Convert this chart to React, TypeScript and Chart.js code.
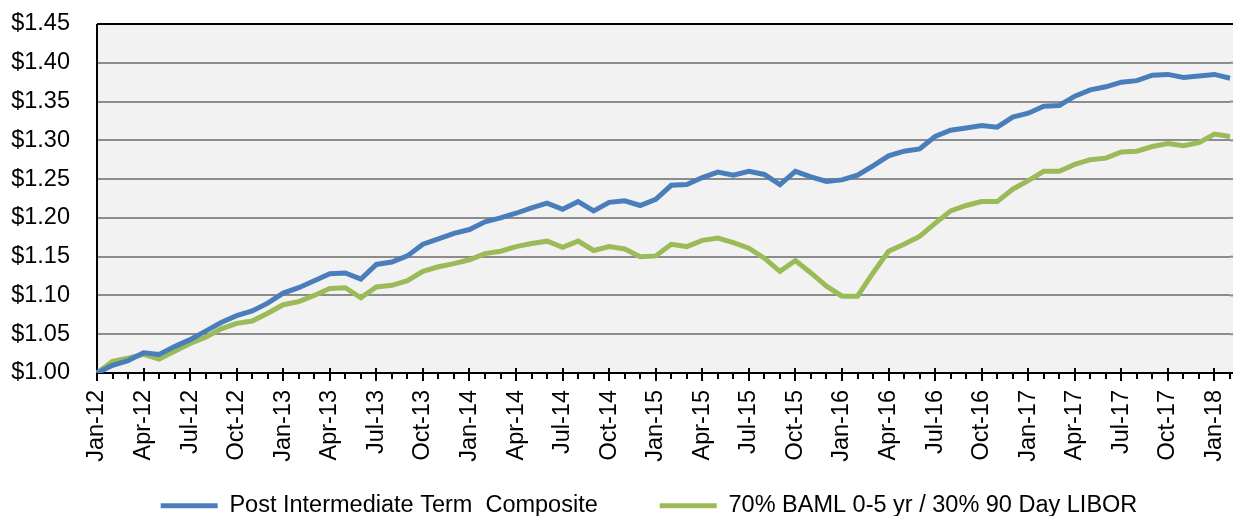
import React, { useEffect, useRef } from 'react';
import { Chart, registerables } from 'chart.js';

Chart.register(...registerables);

const categories = [
  'Jan-12', 'Feb-12', 'Mar-12', 'Apr-12', 'May-12', 'Jun-12', 'Jul-12', 'Aug-12', 'Sep-12', 'Oct-12', 'Nov-12', 'Dec-12',
  'Jan-13', 'Feb-13', 'Mar-13', 'Apr-13', 'May-13', 'Jun-13', 'Jul-13', 'Aug-13', 'Sep-13', 'Oct-13', 'Nov-13', 'Dec-13',
  'Jan-14', 'Feb-14', 'Mar-14', 'Apr-14', 'May-14', 'Jun-14', 'Jul-14', 'Aug-14', 'Sep-14', 'Oct-14', 'Nov-14', 'Dec-14',
  'Jan-15', 'Feb-15', 'Mar-15', 'Apr-15', 'May-15', 'Jun-15', 'Jul-15', 'Aug-15', 'Sep-15', 'Oct-15', 'Nov-15', 'Dec-15',
  'Jan-16', 'Feb-16', 'Mar-16', 'Apr-16', 'May-16', 'Jun-16', 'Jul-16', 'Aug-16', 'Sep-16', 'Oct-16', 'Nov-16', 'Dec-16',
  'Jan-17', 'Feb-17', 'Mar-17', 'Apr-17', 'May-17', 'Jun-17', 'Jul-17', 'Aug-17', 'Sep-17', 'Oct-17', 'Nov-17', 'Dec-17',
  'Jan-18', 'Feb-18',
];

const compositeValues = [
  1.000, 1.010, 1.016, 1.026, 1.024, 1.034, 1.043, 1.054, 1.065, 1.074, 1.080, 1.090,
  1.103, 1.110, 1.119, 1.128, 1.129, 1.121, 1.140, 1.143, 1.151, 1.166, 1.173, 1.180,
  1.185, 1.195, 1.200, 1.206, 1.213, 1.219, 1.211, 1.221, 1.209, 1.220, 1.222, 1.216,
  1.224, 1.242, 1.243, 1.252, 1.259, 1.255, 1.260, 1.256, 1.243, 1.260, 1.253, 1.247,
  1.249, 1.255, 1.267, 1.280, 1.286, 1.289, 1.305, 1.313, 1.316, 1.319, 1.317, 1.330,
  1.335, 1.344, 1.345, 1.357, 1.365, 1.369, 1.375, 1.377, 1.384, 1.385, 1.381, 1.383,
  1.385, 1.380,
];

const benchmarkValues = [
  1.000, 1.015, 1.019, 1.024, 1.018, 1.028, 1.038, 1.046, 1.057, 1.064, 1.067, 1.077,
  1.088, 1.092, 1.100, 1.109, 1.110, 1.097, 1.111, 1.113, 1.119, 1.131, 1.137, 1.141,
  1.146, 1.154, 1.157, 1.163, 1.167, 1.170, 1.162, 1.170, 1.158, 1.163, 1.160, 1.150,
  1.151, 1.166, 1.163, 1.171, 1.174, 1.168, 1.161, 1.148, 1.131, 1.145, 1.129, 1.112,
  1.099, 1.099, 1.129, 1.157, 1.166, 1.176, 1.193, 1.209, 1.216, 1.221, 1.221, 1.237,
  1.248, 1.260, 1.260, 1.269, 1.275, 1.277, 1.285, 1.286, 1.292, 1.296, 1.293, 1.297,
  1.308, 1.305,
];

const seriesNames = ['Post Intermediate Term  Composite', '70% BAML 0-5 yr / 30% 90 Day LIBOR'];
const seriesColors = ['#4a7ebb', '#9bbb59'];

const yMin = 1.0;
const yMax = 1.45;
const yStep = 0.05;
const labelEvery = 3;

const FONT = "'Liberation Sans', Arial, sans-serif";

const framePlugin = {
  id: 'excelFrame',
  afterLayout(chart: any) {
    const lg = chart.legend;
    if (lg) {
      const h = lg.bottom - lg.top;
      lg.left = 68;
      lg.top = 432;
      lg.bottom = 432 + h;
    }
  },
  beforeDraw(chart: any) {
    const { ctx, chartArea: a, width } = chart;
    ctx.save();
    ctx.fillStyle = '#f2f2f2';
    ctx.fillRect(a.left, a.top, width - a.left, a.bottom - a.top);
    ctx.restore();
  },
  beforeDatasetsDraw(chart: any) {
    const { ctx, chartArea: a, width } = chart;
    const ys = chart.scales.y;
    const xs = chart.scales.x;
    ctx.save();
    ctx.strokeStyle = '#8c8c8c';
    ctx.lineWidth = 2;
    ys.ticks.forEach((t: any) => {
      const y = ys.getPixelForValue(t.value);
      ctx.beginPath();
      ctx.moveTo(a.right, y);
      ctx.lineTo(width, y);
      ctx.stroke();
    });
    ctx.strokeStyle = '#000';
    ctx.lineWidth = 2;
    ctx.beginPath();
    ctx.moveTo(a.left, a.top);
    ctx.lineTo(width, a.top);
    ctx.stroke();
    ctx.beginPath();
    ctx.moveTo(a.left, a.top);
    ctx.lineTo(a.left, a.bottom);
    ctx.stroke();
    ctx.beginPath();
    ctx.moveTo(a.left - 1, a.bottom);
    ctx.lineTo(width, a.bottom);
    ctx.stroke();
    for (let i = 0; i < categories.length; i++) {
      const x = Math.round(xs.getPixelForValue(i));
      const major = i % labelEvery === 0;
      ctx.beginPath();
      ctx.moveTo(x, a.bottom - (major ? 5 : 0));
      ctx.lineTo(x, a.bottom + (major ? 8 : 6));
      ctx.stroke();
    }
    ctx.restore();
  },
};

export default function App() {
  const canvasRef = useRef<HTMLCanvasElement | null>(null);

  useEffect(() => {
    const canvas = canvasRef.current;
    if (!canvas) return;
    const chart = new Chart(canvas, {
      type: 'line',
      data: {
        labels: categories,
        datasets: [
          {
            label: seriesNames[0],
            data: compositeValues,
            borderColor: seriesColors[0],
            backgroundColor: seriesColors[0],
            borderWidth: 5,
            pointRadius: 0,
            tension: 0,
            fill: false,
          },
          {
            label: seriesNames[1],
            data: benchmarkValues,
            borderColor: seriesColors[1],
            backgroundColor: seriesColors[1],
            borderWidth: 5,
            pointRadius: 0,
            tension: 0,
            fill: false,
          },
        ],
      },
      options: {
        responsive: false,
        animation: false,
        events: [],
        layout: { padding: { top: 24, right: 3, bottom: -42.5, left: 0 } },
        scales: {
          x: {
            type: 'category',
            offset: false,
            grid: { display: false, drawTicks: false },
            border: { display: false },
            ticks: {
              autoSkip: false,
              minRotation: 90,
              maxRotation: 90,
              padding: 17,
              color: '#000',
              font: { family: FONT, size: 23.5 },
              callback: (_v: any, i: number) => (i % labelEvery === 0 ? categories[i] : ''),
            },
            afterFit: (scale: any) => {
              scale.height = 90;
              scale.paddingLeft = 0;
              scale.paddingRight = 0;
              scale.paddingTop = 0;
              scale.paddingBottom = 0;
            },
          },
          y: {
            min: yMin,
            max: yMax,
            grid: { color: '#8c8c8c', lineWidth: 2, drawTicks: false },
            border: { display: false },
            ticks: {
              stepSize: yStep,
              padding: 27,
              color: '#000',
              font: { family: FONT, size: 23.5 },
              callback: (v: any) => '$' + Number(v).toFixed(2),
            },
            afterFit: (scale: any) => {
              scale.width = 97;
              scale.paddingTop = 0;
              scale.paddingBottom = 0;
            },
          },
        },
        plugins: {
          tooltip: { enabled: false },
          legend: {
            position: 'bottom',
            labels: {
              boxWidth: 57,
              boxHeight: 5,
              padding: 62,
              color: '#000',
              font: { family: FONT, size: 23.5 },
              generateLabels: (c: any) =>
                c.data.datasets.map((ds: any, i: number) => ({
                  text: ds.label,
                  fillStyle: ds.borderColor,
                  strokeStyle: ds.borderColor,
                  lineWidth: 0,
                  hidden: false,
                  datasetIndex: i,
                  fontColor: '#000',
                })),
            },
          },
        },
      },
      plugins: [framePlugin],
    } as any);
    return () => chart.destroy();
  }, []);

  return (
    <div style={{ position: 'fixed', left: 0, top: 0, width: 1233, height: 516, background: '#fff' }}>
      <canvas ref={canvasRef} width={1233} height={516} style={{ display: 'block' }} />
    </div>
  );
}
